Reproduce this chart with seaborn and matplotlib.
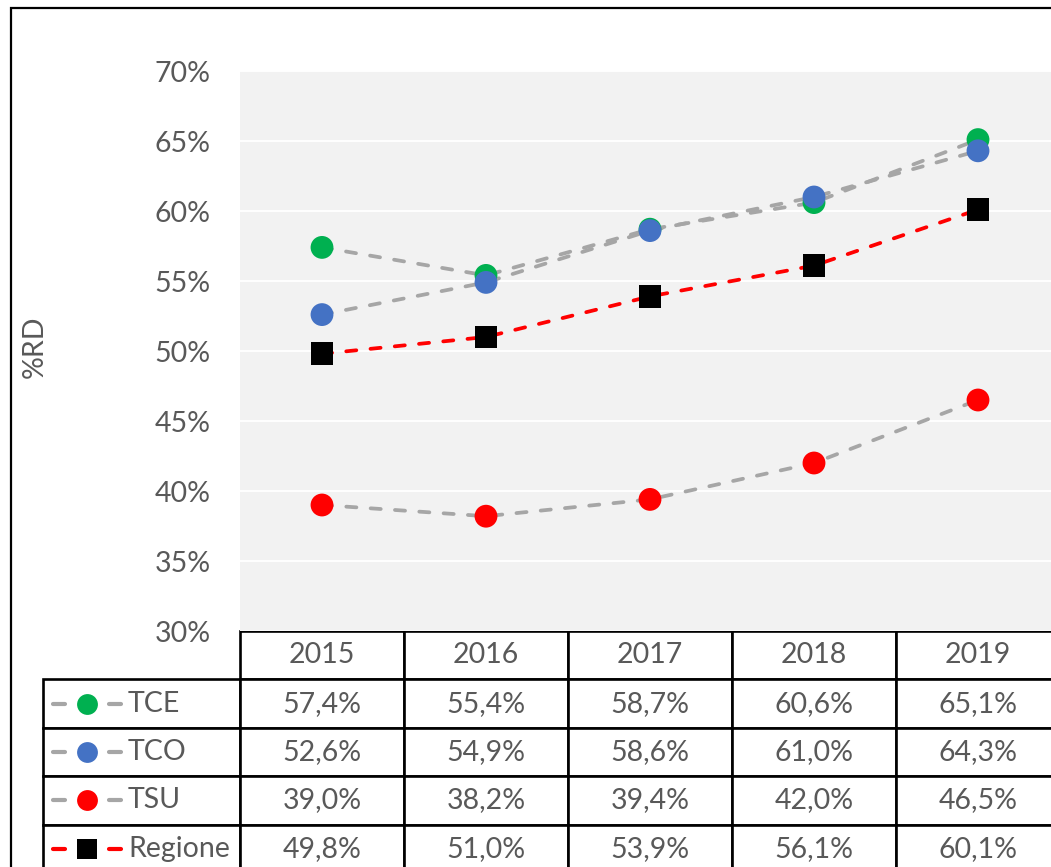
import pandas as pd
import matplotlib
matplotlib.use("Agg")
import matplotlib.pyplot as plt
from matplotlib.table import Table
import seaborn as sb

anni = [2015, 2016, 2017, 2018, 2019]
serie = ['TCE', 'TCO', 'TSU', 'Regione']
tce = [57.4, 55.4, 58.7, 60.6, 65.1]
tco = [52.6, 54.9, 58.6, 61.0, 64.3]
tsu = [39.0, 38.2, 39.4, 42.0, 46.5]
regione = [49.8, 51.0, 53.9, 56.1, 60.1]
yticks = [30, 35, 40, 45, 50, 55, 60, 65, 70]

colori_linea = {'TCE': '#A6A6A6', 'TCO': '#A6A6A6', 'TSU': '#A6A6A6', 'Regione': '#FF0000'}
colori_marker = {'TCE': '#00B050', 'TCO': '#4472C4', 'TSU': '#FF0000', 'Regione': '#000000'}
marker = {'TCE': 'o', 'TCO': 'o', 'TSU': 'o', 'Regione': 's'}

valori = {'TCE': tce, 'TCO': tco, 'TSU': tsu, 'Regione': regione}
df = pd.DataFrame([(s, a, v) for s in serie for a, v in zip(anni, valori[s])],
                  columns=['serie', 'anno', 'valore'])

sb.set_style("white")
plt.rcParams['font.family'] = ['Lato', 'DejaVu Sans']
grigio = '#595959'
fs = 20.5

W, H = 1051, 867
fig = plt.figure(figsize=(W / 100, H / 100), dpi=100)
# plot area: x 240..1060 px, y 71..631 px
ax = fig.add_axes([240 / W, 1 - 631 / H, 820 / W, 560 / H])
ax.set_facecolor('#F2F2F2')

sb.lineplot(data=df, x='anno', y='valore', hue='serie', palette=colori_linea,
            legend=False, lw=2.7, ax=ax, zorder=2)
for ln in ax.lines:
    ln.set_dashes((2.7, 3.8))
    ln.set_dash_capstyle('round')

sb.scatterplot(data=df, x='anno', y='valore', hue='serie', style='serie',
               markers=marker, palette=colori_marker, s=270, linewidth=0,
               legend=False, ax=ax, zorder=3)

ax.set_xlim(2014.5, 2019.5)
ax.set_ylim(30, 70)
ax.set_yticks(yticks)
ax.set_yticklabels([f"{t}%" for t in yticks])
ax.set_xticks([])
ax.tick_params(axis='y', length=0, pad=21, labelsize=fs, labelcolor=grigio)
ax.grid(axis='y', color='white', lw=1.4)
ax.set_axisbelow(True)
ax.set_xlabel('')
ax.set_ylabel('')
for sp in ax.spines.values():
    sp.set_visible(False)

fig.text(35 / W, 1 - 347 / H, '%RD', rotation=90, ha='center', va='center',
         fontsize=fs, color=grigio)

# data table below the plot
def ax_x(px):
    return (px - 240) / 820

def ax_y(py):
    return (631 - py) / 560

tb = Table(ax, bbox=[ax_x(43), ax_y(873), (1060 - 43) / 820, (873 - 631) / 560])
for j, a in enumerate(anni):
    tb.add_cell(0, j + 1, width=164, height=48.4, text=str(a), loc='center')
for i, s in enumerate(serie):
    tb.add_cell(i + 1, 0, width=197, height=48.4, text='')
    for j, v in enumerate(valori[s]):
        testo = f"{v:.1f}%".replace('.', ',')
        tb.add_cell(i + 1, j + 1, width=164, height=48.4, text=testo, loc='center')
tb.auto_set_font_size(False)
tb.set_fontsize(fs)
for (r, c), cell in tb.get_celld().items():
    cell.set_edgecolor('black')
    cell.set_linewidth(1.9)
    cell.set_facecolor('white')
    cell.get_text().set_color(grigio)
ax.add_table(tb)

# legend keys inside the first column
centri = [704, 752, 800, 848.5]
for s, cy in zip(serie, centri):
    y = ax_y(cy)
    for x0, x1 in [(53, 65), (109, 121)]:
        ax.plot([ax_x(x0), ax_x(x1)], [y, y], transform=ax.transAxes, clip_on=False,
                color=colori_linea[s], lw=3, solid_capstyle='round', zorder=5)
    ax.plot([ax_x(87)], [y], transform=ax.transAxes, clip_on=False, marker=marker[s],
            ms=15 if marker[s] == 'o' else 14.5, mew=0, color=colori_marker[s], zorder=5)
    ax.text(ax_x(128), y, s, transform=ax.transAxes, ha='left', va='center',
            fontsize=fs, color=grigio, zorder=5)

# outer border of the chart
fig.add_artist(plt.Rectangle((10.5 / W, -0.1), 1.2, 1.1 - 8.5 / H, transform=fig.transFigure,
                             fill=False, ec='black', lw=1.6))

fig.savefig('out.png', dpi=100)
